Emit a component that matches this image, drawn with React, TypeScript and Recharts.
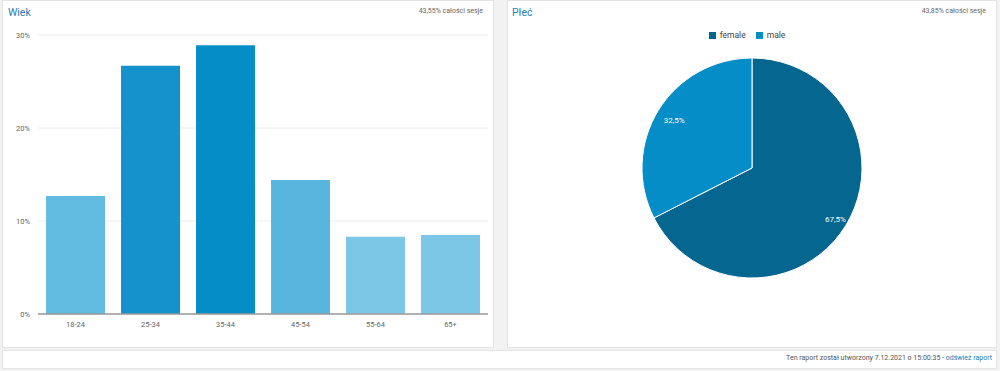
import React from "react";
import { BarChart, Bar, XAxis, YAxis, CartesianGrid, Cell, PieChart, Pie, Legend } from "recharts";

const ageGroups = ["18-24", "25-34", "35-44", "45-54", "55-64", "65+"];
const ageShare = [12.7, 26.7, 28.9, 14.4, 8.3, 8.5];
const ageColors = ["#62bbe1", "#1592cc", "#058dc7", "#58b5de", "#7cc6e6", "#7cc6e6"];
const ageTicks = [0, 10, 20, 30];

const genders = ["female", "male"];
const genderShare = [67.5, 32.5];
const genderColors = ["#05668f", "#058dc7"];

const font = "Roboto, 'Open Sans', Arial, sans-serif";

const ageData = ageGroups.map((g, i) => ({ group: g, share: ageShare[i] }));
const genderData = genders.map((g, i) => ({ name: g, value: genderShare[i] }));

const panel: React.CSSProperties = {
  position: "absolute",
  top: 0,
  height: 348,
  background: "#fff",
  border: "1px solid #e4e4e4",
  boxSizing: "border-box",
};

const titleStyle: React.CSSProperties = {
  position: "absolute",
  top: 5,
  fontSize: 10.5,
  color: "#2c7db5",
};

const noteStyle: React.CSSProperties = {
  position: "absolute",
  top: 6,
  right: 10,
  fontSize: 7,
  color: "#666",
};

const RAD = Math.PI / 180;

function pieLabel(props: any) {
  const { cx, cy, midAngle, outerRadius, value } = props;
  // big slice label sits a bit further out, like the original
  const r = outerRadius * (value > 50 ? 0.89 : 0.83);
  const x = cx + r * Math.cos(-midAngle * RAD);
  const y = cy + r * Math.sin(-midAngle * RAD);
  return (
    <text x={x} y={y} fill="#fff" fontSize={8} textAnchor="middle" dominantBaseline="central" fontFamily={font}>
      {String(value).replace(".", ",")}%
    </text>
  );
}

export default function App() {
  return (
    <div style={{ position: "absolute", left: 0, top: 0, width: 1000, height: 371, background: "#f2f2f2", fontFamily: font, overflow: "hidden" }}>
      {/* Wiek */}
      <div style={{ ...panel, left: 2, width: 492 }}>
        <div style={{ ...titleStyle, left: 5 }}>Wiek</div>
        <div style={noteStyle}>43,55% całości sesje</div>
        <div style={{ position: "absolute", left: -3, top: -1 }}>
          <BarChart width={494} height={344} data={ageData} margin={{ top: 35, right: 6, bottom: 0, left: 0 }} barCategoryGap="10.7%">
            <CartesianGrid vertical={false} stroke="#ececec" />
            <XAxis
              dataKey="group"
              height={30}
              axisLine={{ stroke: "#9a9a9a", strokeWidth: 1.5 }}
              tickLine={false}
              tick={{ fontSize: 7.5, fill: "#666", fontFamily: font }}
            />
            <YAxis
              width={38}
              domain={[0, 30]}
              ticks={ageTicks}
              axisLine={false}
              tickLine={false}
              tickFormatter={(v) => `${v}%`}
              tick={{ fontSize: 7.5, fill: "#666", fontFamily: font }}
            />
            <Bar dataKey="share" isAnimationActive={false}>
              {ageData.map((d, i) => (
                <Cell key={d.group} fill={ageColors[i]} />
              ))}
            </Bar>
          </BarChart>
        </div>
      </div>

      {/* Płeć */}
      <div style={{ ...panel, left: 507, width: 490 }}>
        <div style={{ ...titleStyle, left: 4 }}>Płeć</div>
        <div style={noteStyle}>43,85% całości sesje</div>
        <div style={{ position: "absolute", left: -1, top: -1 }}>
          <PieChart width={490} height={344}>
            <Legend
              verticalAlign="top"
              align="center"
              iconType="square"
              iconSize={7}
              formatter={(v) => <span style={{ color: "#444" }}>{v}</span>}
              wrapperStyle={{ top: 30, fontSize: 8.5, fontFamily: font }}
            />
            <Pie
              data={genderData}
              dataKey="value"
              nameKey="name"
              cx={240}
              cy={153}
              outerRadius={110}
              startAngle={90}
              endAngle={-270}
              stroke="#fff"
              strokeWidth={1}
              label={pieLabel}
              labelLine={false}
              isAnimationActive={false}
            >
              {genderData.map((d, i) => (
                <Cell key={d.name} fill={genderColors[i]} />
              ))}
            </Pie>
          </PieChart>
        </div>
      </div>

      {/* footer */}
      <div style={{ position: "absolute", left: 2, top: 350, width: 995, height: 19, background: "#fff", border: "1px solid #e4e4e4", boxSizing: "border-box" }}>
        <div style={{ position: "absolute", right: 4, top: 3, fontSize: 7, color: "#555" }}>
          Ten raport został utworzony 7.12.2021 o 15:00:35 - <span style={{ color: "#1a7bb9" }}>odśwież raport</span>
        </div>
      </div>
    </div>
  );
}
